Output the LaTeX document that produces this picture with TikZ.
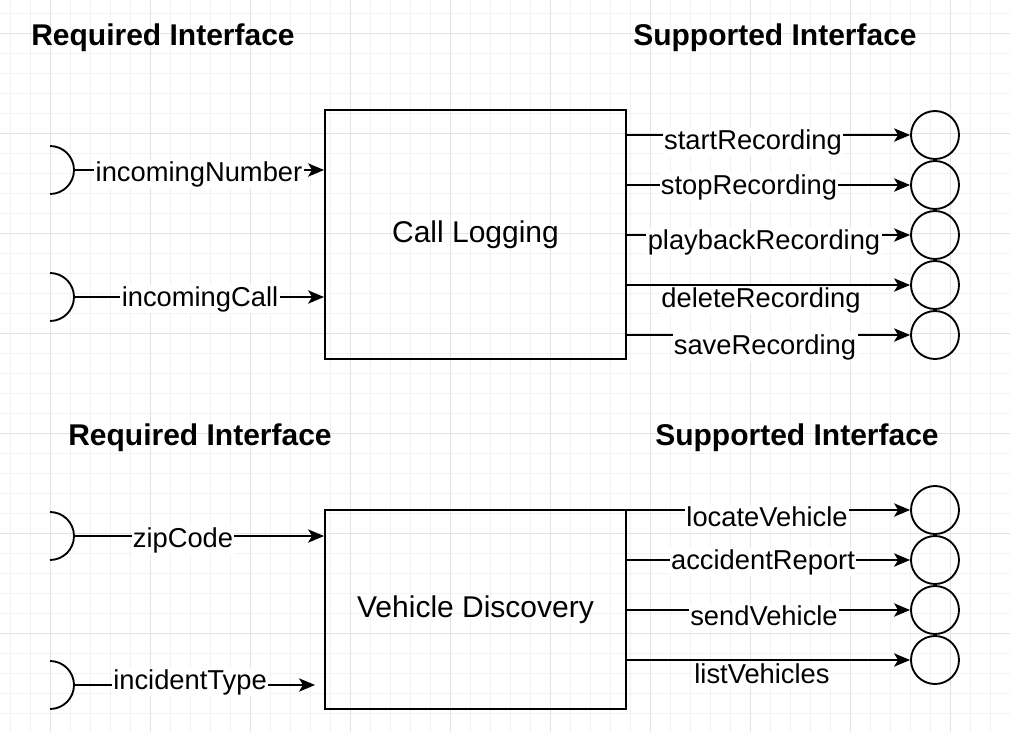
\documentclass[tikz,border=0pt]{standalone}
\usepackage{fontspec}
\setmainfont{Liberation Sans}
\usetikzlibrary{positioning, calc, arrows.meta}

\tikzset{
  lbl/.style={fill=white, inner sep=1pt, font=\fontsize{20.5}{21}\selectfont},
  ttl/.style={font=\bfseries\fontsize{22.5}{23}\selectfont},
  comp/.style={draw, line width=1.4pt, minimum width=225.75pt, minimum height=#1, font=\fontsize{22.5}{23}\selectfont},
  port/.style={draw, line width=1.4pt, circle, minimum size=36pt, inner sep=0pt},
  wire/.style={line width=1.2pt, -{Stealth[length=12pt,width=10pt,inset=3pt]}},
}

\begin{document}
\begin{tikzpicture}[x=0.75pt, y=-0.75pt]
  \useasboundingbox (0,0) rectangle (1010,732);
  % grid
  \foreach \x in {10,30,...,1010} \draw[black!5] (\x,0) -- (\x,732);
  \foreach \y in {13,33,...,732} \draw[black!5] (0,\y) -- (1010,\y);
  \foreach \x in {50,150,...,1010} \draw[black!11] (\x,0) -- (\x,732);
  \foreach \y in {33,133,...,732} \draw[black!11] (0,\y) -- (1010,\y);

  \node[ttl] (req1) at (163,38) {Required Interface};
  \node[ttl] (sup1) at (775,38) {Supported Interface};
  \node[ttl] (req2) at (200,438) {Required Interface};
  \node[ttl] (sup2) at (797,438) {Supported Interface};

  \node[comp=186.75pt] (logging) at (475.5,234.5) {Call Logging};
  \node[comp=149.25pt] (discovery) at (475.5,609.5) {Vehicle Discovery};

  % required sockets
  \foreach \n/\y in {a/170, b/297, c/536, d/685} {
    \draw[line width=1.4pt] (50,\y-24) arc[start angle=90, end angle=-90, radius=18pt];
    \coordinate (s\n) at (75,\y);
  }
  \draw[wire] (sa) -- (logging.west |- sa);
  \draw[wire] (sb) -- (logging.west |- sb);
  \draw[wire] (sc) -- (discovery.west |- sc);
  \coordinate (dend) at (315,685);
  \draw[wire] (sd) -- (dend);
  \node[lbl] (inNumber) at (199,174) {incomingNumber};
  \node[lbl] (inCall) at (200,299) {incomingCall};
  \node[lbl] (zip) at (183,540) {zipCode};
  \node[lbl] (incident) at (190,682) {incidentType};

  % supported ports
  \foreach \n/\y in {1/135, 2/185, 3/235, 4/285, 5/335} {
    \node[port] (p\n) at (935,\y) {};
    \draw[wire] (logging.east |- p\n) -- (p\n);
  }
  \foreach \n/\y in {6/510, 7/560, 8/610, 9/660} {
    \node[port] (p\n) at (935,\y) {};
    \draw[wire] (discovery.east |- p\n) -- (p\n);
  }
  \node[lbl] (start) at (753,142) {startRecording};
  \node[lbl] (stop) at (749,187) {stopRecording};
  \node[lbl] (playback) at (764,242) {playbackRecording};
  \node[lbl] (delete) at (761,300) {deleteRecording};
  \node[lbl] (save) at (765,347) {saveRecording};
  \node[lbl] (locate) at (767,517) {locateVehicle};
  \node[lbl] (accident) at (763,562) {accidentReport};
  \node[lbl] (send) at (764,616) {sendVehicle};
  \node[lbl] (list) at (762,674) {listVehicles};
\end{tikzpicture}
\end{document}
